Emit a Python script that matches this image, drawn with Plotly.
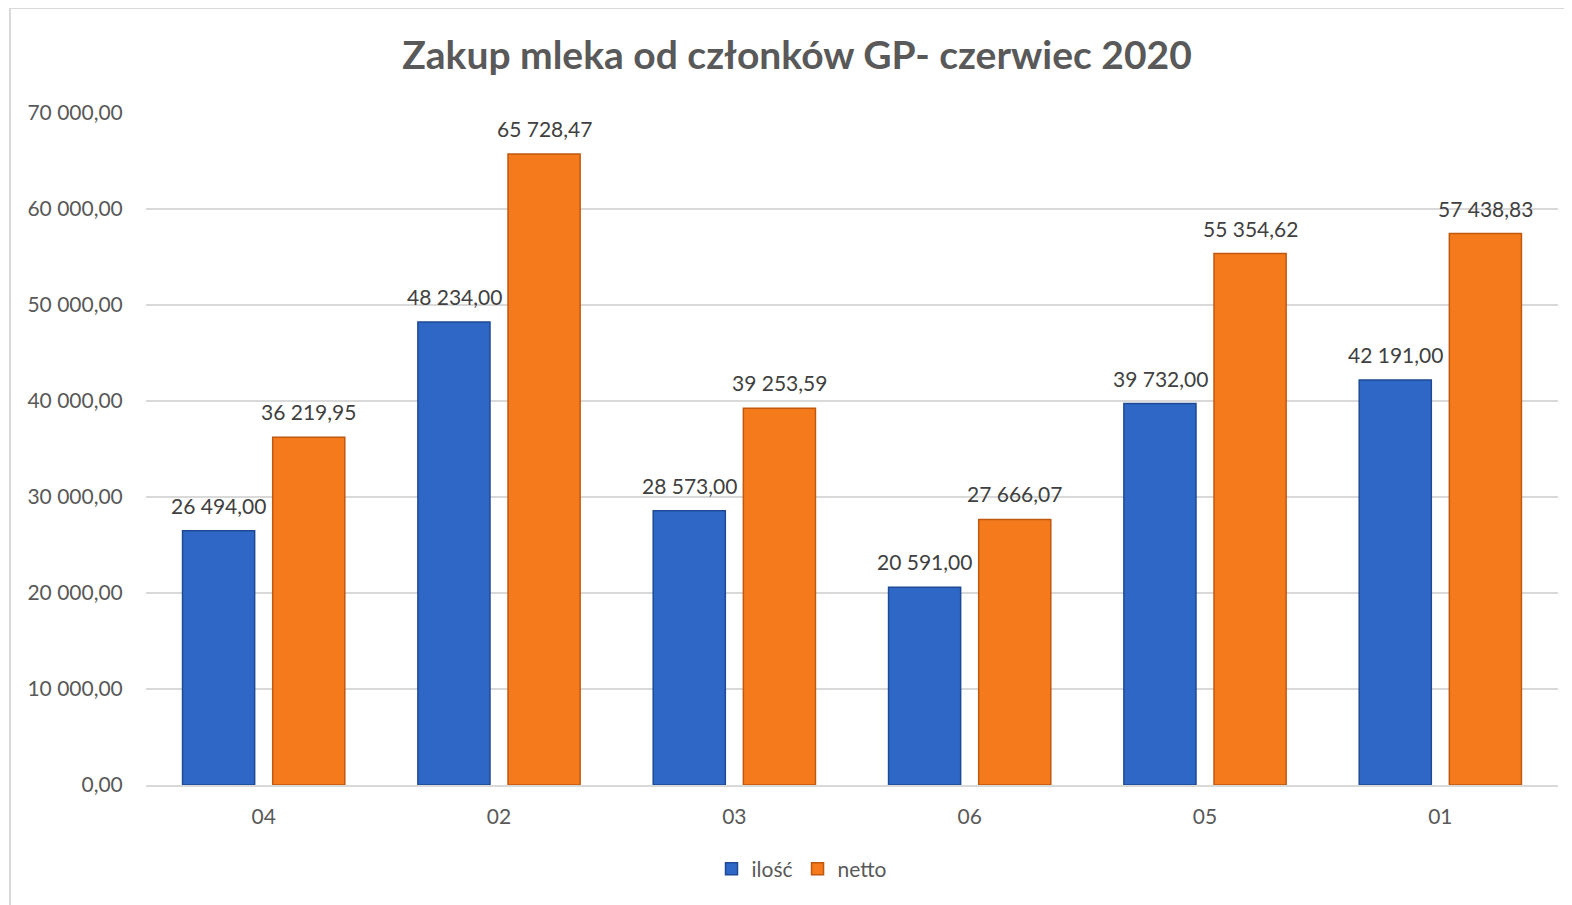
import plotly.graph_objects as go

# dane z wykresu
kategorie = ["04", "02", "03", "06", "05", "01"]
ilosc = [26494.00, 48234.00, 28573.00, 20591.00, 39732.00, 42191.00]
netto = [36219.95, 65728.47, 39253.59, 27666.07, 55354.62, 57438.83]
tick_vals = [0, 10000, 20000, 30000, 40000, 50000, 60000, 70000]


def pl_format(v):
    s = "{:,.2f}".format(v)
    return s.replace(",", " ").replace(".", ",")


FONT = "Lato, Open Sans, sans-serif"

# page is offset by the body margin (~8px), so layout is shifted to match
W, H = 1572, 905
L, T, PW, PH = 138, 105, 1412, 672

fig = go.Figure()

fig.add_trace(go.Bar(
    x=kategorie,
    y=ilosc,
    name="ilość",
    marker=dict(color="#2F67C6", line=dict(color="#1E4A93", width=1.5)),
))

fig.add_trace(go.Bar(
    x=kategorie,
    y=netto,
    name="netto",
    marker=dict(color="#F47A1B", line=dict(color="#C0580E", width=1.5)),
))

# etykiety danych nad slupkami (x jako indeks kategorii)
for seria, shift in [(ilosc, -45), (netto, 45)]:
    for i, v in enumerate(seria):
        fig.add_annotation(
            x=i, y=v, xref="x", yref="y",
            text=pl_format(v), showarrow=False,
            xshift=shift, yshift=11, yanchor="bottom",
            font=dict(family=FONT, size=21, color="#404040"),
        )

fig.update_layout(
    title=dict(
        text="<b>Zakup mleka od członków GP- czerwiec 2020</b>",
        x=(797 - 8) / W, xref="container", xanchor="center",
        y=1 - 47 / H, yref="container", yanchor="middle",
        font=dict(family=FONT, size=39, color="#595959"),
    ),
    barmode="group",
    bargap=0.234,
    bargroupgap=0.2,
    width=W,
    height=H,
    margin=dict(l=L, r=W - L - PW, t=T, b=H - T - PH),
    paper_bgcolor="white",
    plot_bgcolor="white",
    font=dict(family=FONT, size=21, color="#595959"),
    showlegend=True,
    legend=dict(
        orientation="h",
        x=(802 - 8 - L) / PW, xanchor="center",
        y=-(869 - 8 - T - PH) / PH, yanchor="middle",
        font=dict(family=FONT, size=21, color="#595959"),
        itemwidth=30,
        traceorder="normal",
    ),
    xaxis=dict(
        type="category",
        range=[-0.5, len(kategorie) - 0.5],
        showgrid=False,
        showline=True,
        linecolor="#D9D9D9",
        linewidth=1.5,
        ticks="outside",
        ticklen=12,
        tickcolor="rgba(0,0,0,0)",
        tickfont=dict(family=FONT, size=21, color="#595959"),
    ),
    yaxis=dict(
        range=[0, 70000],
        tickvals=tick_vals,
        ticktext=[pl_format(v) for v in tick_vals],
        showgrid=True,
        gridcolor="#D9D9D9",
        gridwidth=1.5,
        zeroline=False,
        showline=False,
        ticks="outside",
        ticklen=18,
        tickcolor="rgba(0,0,0,0)",
        tickfont=dict(family=FONT, size=21, color="#595959"),
    ),
    shapes=[
        dict(type="line", xref="paper", yref="paper",
             x0=(2 - L) / PW, x1=(W - L) / PW, y0=(T + PH) / PH, y1=(T + PH) / PH,
             line=dict(color="#D9D9D9", width=2)),
        dict(type="line", xref="paper", yref="paper",
             x0=(2 - L) / PW, x1=(2 - L) / PW, y0=(T + PH) / PH, y1=-(H - T - PH) / PH,
             line=dict(color="#D9D9D9", width=2)),
    ],
)

fig.write_html("out.html")
